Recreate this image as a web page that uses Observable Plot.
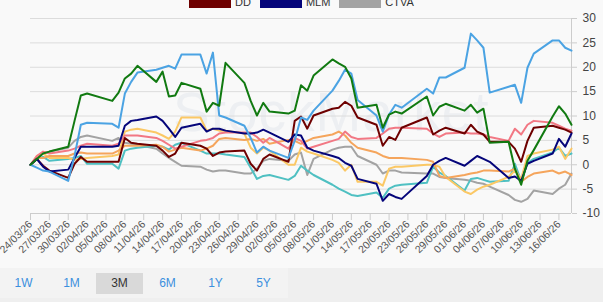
<!DOCTYPE html>
<html>
<head>
<meta charset="utf-8">
<script src="https://cdn.jsdelivr.net/npm/d3@7"></script>
<script src="https://cdn.jsdelivr.net/npm/@observablehq/plot@0.6"></script>
<style>
  html, body { margin: 0; padding: 0; }
  body {
    width: 603px; height: 302px; overflow: hidden; position: relative;
    background: #f9f9f9; font-family: "Liberation Sans", Arial, sans-serif;
  }
  #watermark {
    position: absolute; left: 173px; top: 80px; font-size: 55px;
    color: #edeff2; white-space: nowrap; letter-spacing: 1px;
  }
  #chart { position: absolute; left: 0; top: 0; }
  #legend {
    position: absolute; left: 189px; top: -4px; display: flex; align-items: center;
    font-size: 11px; color: #333; line-height: 12px;
  }
  .item { display: flex; align-items: center; margin-right: 9px; }
  .swatch { width: 42px; height: 12px; margin-right: 4px; }
  #bar { position: absolute; left: 0; top: 268px; width: 603px; height: 34px; background: #efefef; }
  #ranges {
    position: absolute; left: 0; top: 268px; width: 288px; height: 30px;
    background: #f3f3f3; display: flex; padding-top: 5px; box-sizing: border-box;
  }
  .btn {
    width: 48px; height: 21px; line-height: 21px; margin-right: 1px; text-align: center;
    font-size: 12px; color: #3b8fde;
  }
  .btn.on { background: #d9d9d9; color: #333; }
</style>
</head>
<body>
<div id="watermark">StockMarket</div>
<div id="chart"></div>
<div id="legend"></div>
<div id="bar"></div>
<div id="ranges"></div>
<script>
// Trading days shown on the chart
const dates = [
  "2026-03-24","2026-03-25","2026-03-26","2026-03-27","2026-03-30","2026-03-31",
  "2026-04-01","2026-04-02","2026-04-06","2026-04-07","2026-04-08","2026-04-09","2026-04-10",
  "2026-04-13","2026-04-14","2026-04-15","2026-04-16","2026-04-17",
  "2026-04-20","2026-04-21","2026-04-22","2026-04-23","2026-04-24",
  "2026-04-27","2026-04-28","2026-04-29","2026-04-30","2026-05-01",
  "2026-05-04","2026-05-05","2026-05-06","2026-05-07","2026-05-08",
  "2026-05-11","2026-05-12","2026-05-13","2026-05-14","2026-05-15",
  "2026-05-18","2026-05-19","2026-05-20","2026-05-21","2026-05-22",
  "2026-05-26","2026-05-27","2026-05-28","2026-05-29",
  "2026-06-01","2026-06-02","2026-06-03","2026-06-04","2026-06-05",
  "2026-06-08","2026-06-09","2026-06-10","2026-06-11","2026-06-12",
  "2026-06-15","2026-06-16","2026-06-17","2026-06-18"
];

// Cumulative change (%) since the first day
const dd = [0,1.2,-0.2,-1.2,-2.7,0.2,1.6,0.6,0.6,0.6,5.5,4.5,4.3,3.9,2.9,1.6,2.3,4.5,3.9,3.3,1.8,2.5,2.7,2.9,0.2,-1.2,1.2,2.1,0.6,9,9.9,7.4,10.1,11.5,11.7,12.9,12.1,9.7,8.2,3.9,5.7,5.1,7.6,9.7,6.2,7,7.6,6.4,8.2,6.8,6.2,4.7,4.7,3.3,0.6,4.9,7.6,8,7.6,7.2,6.6];
const mlm = [0,1.2,-0.4,-1.4,-1,1.4,3.7,3.7,3.7,3.9,8,9,9.2,9.9,9,7.4,5.7,7.6,8.4,6.8,7.4,7.4,7,6.4,6.4,6.6,7.2,6.6,4.7,6.2,6,3.5,2.9,1.8,1.4,0.4,-0.2,-2.9,-3.9,-7.4,-6,-6.6,-7,-2.3,0,0.8,1.4,-0.2,0.8,1.8,1.2,0.6,-2.7,-2.4,-3.3,0.2,0.8,2.3,5.3,3.7,6.4];
const ctva = [0,1.4,2.3,2.7,3.5,4.9,5.7,6,4.9,5.5,4.5,4.3,4.1,3.3,2.3,1.4,0.6,-0.2,-0.4,-1,-1.4,-1.2,-1.2,-1.8,-1.8,-0.8,0.8,1.2,0.8,2.1,2.5,-2.1,1.2,3.1,3.5,3.7,3.7,1.8,0,-1.8,-1.2,-1.2,-1.6,-1.8,-1.8,-2.5,-2.7,-3.1,-3.3,-3.7,-3.9,-4.5,-6.2,-7.2,-7.6,-7,-5.3,-6,-4.9,-4.1,-1.8];
const series4 = [0,1.2,2.3,2.7,3.7,9,14.2,14.6,13.1,14.8,17.7,18.7,20.3,17,19.1,14,14.2,16.8,15.6,10.9,12.7,12.1,20.9,16.8,13.1,10.1,12.7,10.9,10.5,11.1,16.3,15.2,18.3,21.6,20.8,20.1,17.7,11.7,12.3,7.6,10.3,10.9,10.5,14,10.1,11.9,12.5,11.1,12.3,10.7,11.5,4.5,4.7,-0.8,-4.1,0.8,3,9.9,12,10.5,8.2];
const series5 = [0,-0.6,-1.2,-1.4,-3.3,1.8,8.2,8.6,8.4,7.6,14.6,17,18.9,19.5,19.9,20.3,19.7,22.6,22.6,18.7,23,10.1,9.7,8,5.5,2.5,3.7,2.9,1.4,4.9,9.7,9.2,11.1,15.2,17.2,19.5,18.7,13.3,10.1,6.8,10.3,12.3,11.7,15.6,14.6,17.9,17.9,19.9,26.9,25.5,24,14.8,16,16.4,12.7,19.9,22.8,25.5,25.5,24,23.4];
const series6 = [0,1.8,2.7,2.3,2.9,3.3,3.9,4.3,3.9,4.3,6,6,6,5.5,4.9,4.1,3.3,3.7,4.9,5.1,5.5,6.4,6.6,6.6,6.6,5.7,4.5,5.5,3.3,5.5,4.9,3.3,3.7,4.9,5.3,6.8,5.7,5.3,5.5,6.4,7.4,7.6,7.6,7.4,6.4,5.7,6.4,6.6,6.4,6.4,6.2,5.7,4.9,7.4,6.2,8.2,9,8.6,8,7.4,7];
const series7 = [0,1.4,1.4,1.8,1.8,2.3,2.5,2.3,2.3,2.9,3.9,3.9,3.9,4.1,3.7,2.7,3.1,3.5,2.9,3.3,3.9,5.3,5.5,5.1,5.3,4.9,5.3,4.3,5.1,4.9,4.3,4.9,5.5,6.2,6.8,6,4.5,3.5,2.5,1.8,1.4,1.4,1.4,1,0.6,-2.3,-2.7,-2.1,-1.8,-1.6,-1.2,-1.2,-1.4,-0.8,-3.5,-2.5,-1.8,-1.2,-1.8,-1.4,-2.1];
const series8 = [0,1.8,2.3,1.4,1.4,1,1.2,1.4,1.8,2.1,6.8,7.2,7.4,6.6,6,5.3,6.8,9.7,9.7,7,7.4,7,7,6.4,3.5,2.3,3.5,2.9,0,0,3.5,2.7,2.3,1,0.4,-1.2,0,-3.5,-3.5,-4.3,-0.8,-0.4,-0.4,0,0,-0.4,-2.5,-5.5,-6,-5.1,-4.5,-4.1,-2.5,-1.2,-2.9,1.8,2.3,3.1,3.7,1.2,3.3];
const series9 = [0,1.2,1.6,0.8,1.2,1.4,1.8,0.2,0.2,-0.8,2.9,3.3,3.5,3.9,3.7,3.1,4.1,4.5,2.9,2.3,2.3,2.3,2.1,1.6,-0.6,-2.9,-2.3,-2.1,-3.1,-2.3,-0.2,-1.2,-2.1,-4.1,-4.9,-5.5,-6.2,-6.4,-5.7,-6.8,-4.9,-4.3,-4.1,-3.7,-0.4,-1.6,-2.3,-5.3,-2.9,-2.7,-3.1,-3.5,-3.3,0.2,-3.3,0.4,1.2,2.5,3.5,1.8,2.3];

// Axis ticks and legend entries
const xTickLabels = [
  "24/03/26","27/03/26","30/03/26","02/04/26","05/04/26","08/04/26","11/04/26","14/04/26",
  "17/04/26","20/04/26","23/04/26","26/04/26","29/04/26","02/05/26","05/05/26","08/05/26",
  "11/05/26","14/05/26","17/05/26","20/05/26","23/05/26","26/05/26","29/05/26","01/06/26",
  "04/06/26","07/06/26","10/06/26","13/06/26","16/06/26"
];
const yTicks = [-10, -5, 0, 5, 10, 15, 20, 25, 30];
const legendKeys = ["DD", "MLM", "CTVA"];
const rangeLabels = ["1W", "1M", "3M", "6M", "1Y", "5Y"];
const activeRange = "3M";

// Line colours, in drawing order (back to front)
const layers = [
  {values: ctva, color: "#a3a3a3"},
  {values: series9, color: "#4fc0c2"},
  {values: series8, color: "#fbc865"},
  {values: series7, color: "#f5a55c"},
  {values: series6, color: "#f27884"},
  {values: dd, color: "#6e0000"},
  {values: mlm, color: "#05057a"},
  {values: series5, color: "#4ba3e3"},
  {values: series4, color: "#117a11"}
];
const legendColors = {DD: "#6e0000", MLM: "#05057a", CTVA: "#a3a3a3"};

const parseDay = d3.utcParse("%Y-%m-%d");
const parseTick = d3.utcParse("%d/%m/%y");
const days = dates.map(parseDay);
const xTicks = xTickLabels.map(parseTick);
const xDomain = [parseTick("24/03/26"), parseTick("18/06/26")];

const lineMarks = layers.map(({values, color}) =>
  Plot.lineY(values.map((v, i) => ({date: days[i], value: v})), {
    x: "date", y: "value", stroke: color, strokeWidth: 2, strokeLinejoin: "round"
  })
);

const chart = Plot.plot({
  width: 603,
  height: 258,
  marginLeft: 30,
  marginRight: 32,
  marginTop: 18,
  marginBottom: 45,
  style: {background: "transparent", fontFamily: "'Liberation Sans', Arial, sans-serif"},
  x: {type: "utc", domain: xDomain},
  y: {domain: [-10, 30]},
  marks: [
    Plot.gridY(yTicks, {stroke: "#dcdcdc", strokeOpacity: 1}),
    Plot.ruleY([-10], {stroke: "#cccccc"}),
    Plot.ruleX([xDomain[1]], {stroke: "#cccccc"}),
    Plot.axisY(yTicks, {
      anchor: "right", tickSize: 5, tickPadding: 6, fontSize: 12,
      tickFormat: d => String(d), stroke: "#cccccc", fill: "#444", label: null
    }),
    Plot.axisX(xTicks, {
      anchor: "bottom", tickSize: 7, tickPadding: 2, tickRotate: -45, fontSize: 10.5,
      tickFormat: d3.utcFormat("%d/%m/%y"), stroke: "#cccccc", fill: "#555", label: null
    }),
    ...lineMarks
  ]
});
document.getElementById("chart").appendChild(chart);

// Legend row
const legend = document.getElementById("legend");
legendKeys.forEach(k => {
  const item = document.createElement("div");
  item.className = "item";
  const sw = document.createElement("div");
  sw.className = "swatch";
  sw.style.background = legendColors[k];
  const label = document.createElement("span");
  label.textContent = k;
  item.append(sw, label);
  legend.appendChild(item);
});

// Range selector buttons
const ranges = document.getElementById("ranges");
rangeLabels.forEach(r => {
  const b = document.createElement("div");
  b.className = "btn" + (r === activeRange ? " on" : "");
  b.textContent = r;
  ranges.appendChild(b);
});
</script>
</body>
</html>
